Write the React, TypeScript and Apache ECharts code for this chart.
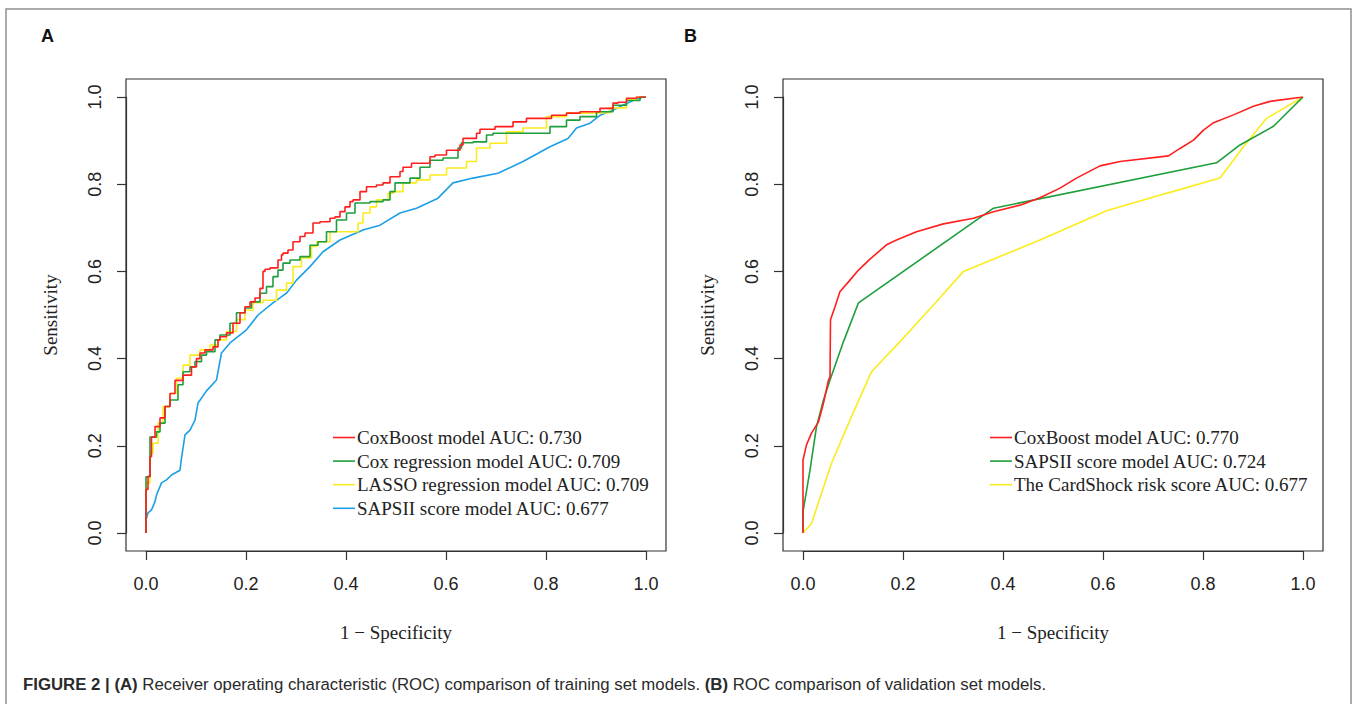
import React, { useEffect, useRef } from "react";
import * as echarts from "echarts";

// ---------- data ----------
const tickValues = [0, 0.2, 0.4, 0.6, 0.8, 1.0];

const trainNames = [
  "CoxBoost model AUC: 0.730",
  "Cox regression model AUC: 0.709",
  "LASSO regression model AUC: 0.709",
  "SAPSII score model AUC: 0.677",
];
const validNames = [
  "CoxBoost model AUC: 0.770",
  "SAPSII score model AUC: 0.724",
  "The CardShock risk score AUC: 0.677",
];

const coxBoostTrain = [
  [0, 0], [0, 0.09], [0.004, 0.1], [0.008, 0.13], [0.011, 0.175], [0.018, 0.22], [0.028, 0.244], [0.038, 0.264],
  [0.048, 0.29], [0.058, 0.32], [0.074, 0.35], [0.091, 0.362], [0.101, 0.381], [0.108, 0.4], [0.118, 0.413],
  [0.134, 0.42], [0.144, 0.427], [0.148, 0.443], [0.161, 0.45], [0.174, 0.459], [0.188, 0.481], [0.198, 0.505],
  [0.208, 0.519], [0.218, 0.53], [0.228, 0.539], [0.234, 0.561], [0.238, 0.6], [0.248, 0.605], [0.264, 0.608],
  [0.271, 0.626], [0.274, 0.638], [0.284, 0.642], [0.294, 0.649], [0.308, 0.668], [0.318, 0.68], [0.334, 0.688],
  [0.348, 0.711], [0.368, 0.714], [0.378, 0.722], [0.388, 0.725], [0.398, 0.737], [0.408, 0.748], [0.414, 0.76],
  [0.428, 0.764], [0.441, 0.783], [0.461, 0.794], [0.474, 0.798], [0.488, 0.803], [0.508, 0.817], [0.514, 0.829],
  [0.531, 0.839], [0.568, 0.848], [0.578, 0.863], [0.601, 0.867], [0.628, 0.878], [0.634, 0.89], [0.661, 0.905],
  [0.668, 0.917], [0.698, 0.926], [0.734, 0.932], [0.761, 0.943], [0.811, 0.951], [0.841, 0.958], [0.868, 0.963],
  [0.908, 0.966], [0.934, 0.974], [0.944, 0.986], [0.961, 0.988], [0.981, 0.997], [1, 1],
];
const coxRegTrain = [
  [0, 0], [0, 0.09], [0.008, 0.129], [0.021, 0.22], [0.028, 0.232], [0.038, 0.252], [0.048, 0.29], [0.064, 0.305],
  [0.074, 0.34], [0.088, 0.37], [0.098, 0.381], [0.111, 0.393], [0.121, 0.408], [0.138, 0.416], [0.148, 0.443],
  [0.168, 0.454], [0.181, 0.481], [0.198, 0.505], [0.211, 0.516], [0.228, 0.53], [0.241, 0.55], [0.254, 0.565],
  [0.264, 0.588], [0.274, 0.603], [0.288, 0.619], [0.308, 0.626], [0.328, 0.634], [0.344, 0.66], [0.361, 0.668],
  [0.381, 0.691], [0.401, 0.718], [0.418, 0.734], [0.448, 0.757], [0.474, 0.76], [0.488, 0.764], [0.498, 0.783],
  [0.528, 0.803], [0.548, 0.814], [0.568, 0.839], [0.594, 0.855], [0.624, 0.86], [0.631, 0.883], [0.654, 0.895],
  [0.681, 0.897], [0.694, 0.913], [0.748, 0.917], [0.808, 0.917], [0.841, 0.932], [0.868, 0.947], [0.901, 0.955],
  [0.934, 0.966], [0.961, 0.981], [0.988, 0.992], [1, 1],
];
const lassoTrain = [
  [0, 0], [0, 0.06], [0.008, 0.115], [0.014, 0.183], [0.024, 0.206], [0.034, 0.252], [0.048, 0.29], [0.061, 0.32],
  [0.074, 0.355], [0.088, 0.385], [0.108, 0.408], [0.128, 0.42], [0.144, 0.431], [0.161, 0.443], [0.181, 0.462],
  [0.198, 0.489], [0.214, 0.511], [0.234, 0.528], [0.261, 0.534], [0.281, 0.557], [0.294, 0.573], [0.294, 0.596],
  [0.311, 0.611], [0.331, 0.631], [0.341, 0.657], [0.368, 0.668], [0.381, 0.691], [0.424, 0.691], [0.434, 0.711],
  [0.448, 0.734], [0.461, 0.748], [0.484, 0.764], [0.494, 0.779], [0.514, 0.783], [0.541, 0.803], [0.568, 0.81],
  [0.601, 0.821], [0.641, 0.837], [0.661, 0.852], [0.688, 0.883], [0.721, 0.894], [0.754, 0.92], [0.801, 0.929],
  [0.841, 0.955], [0.881, 0.963], [0.928, 0.964], [0.961, 0.975], [0.981, 0.995], [1, 1],
];
const sapsTrain = [
  [0, 0], [0, 0.03], [0.004, 0.046], [0.011, 0.053], [0.018, 0.072], [0.021, 0.087], [0.031, 0.115], [0.041, 0.122],
  [0.051, 0.133], [0.068, 0.144], [0.071, 0.172], [0.078, 0.225], [0.088, 0.236], [0.098, 0.259], [0.104, 0.298],
  [0.121, 0.326], [0.141, 0.351], [0.151, 0.413], [0.168, 0.436], [0.201, 0.466], [0.224, 0.5], [0.254, 0.528],
  [0.281, 0.55], [0.301, 0.58], [0.328, 0.611], [0.354, 0.645], [0.388, 0.672], [0.434, 0.695], [0.468, 0.706],
  [0.508, 0.734], [0.541, 0.745], [0.584, 0.768], [0.614, 0.803], [0.654, 0.814], [0.704, 0.825], [0.754, 0.852],
  [0.808, 0.886], [0.844, 0.905], [0.861, 0.929], [0.888, 0.94], [0.908, 0.958], [0.934, 0.97], [0.954, 0.981],
  [0.974, 0.992], [0.994, 1.0], [1, 1],
];

const coxBoostValid = [
  [0, 0], [0, 0.167], [0.007, 0.202], [0.017, 0.229], [0.031, 0.255], [0.041, 0.298], [0.051, 0.351], [0.054, 0.358],
  [0.055, 0.489], [0.064, 0.519], [0.074, 0.554], [0.091, 0.576], [0.111, 0.603], [0.134, 0.628], [0.167, 0.661],
  [0.187, 0.672], [0.227, 0.691], [0.281, 0.709], [0.341, 0.722], [0.381, 0.737], [0.434, 0.752], [0.474, 0.769],
  [0.514, 0.791], [0.547, 0.814], [0.594, 0.842], [0.634, 0.852], [0.731, 0.865], [0.754, 0.882], [0.781, 0.901],
  [0.801, 0.924], [0.821, 0.941], [0.861, 0.959], [0.901, 0.979], [0.934, 0.99], [1, 1],
];
const sapsValid = [
  [0, 0], [0, 0.049], [0.014, 0.144], [0.027, 0.244], [0.041, 0.305], [0.054, 0.351], [0.081, 0.439], [0.111, 0.528],
  [0.381, 0.745], [0.827, 0.849], [0.874, 0.89], [0.941, 0.933], [1, 1],
];
const cardShockValid = [
  [0, 0], [0.017, 0.022], [0.037, 0.091], [0.057, 0.16], [0.097, 0.267], [0.137, 0.37], [0.194, 0.439], [0.261, 0.523],
  [0.321, 0.6], [0.474, 0.672], [0.607, 0.739], [0.727, 0.779], [0.834, 0.814], [0.881, 0.886], [0.927, 0.951], [1, 1],
];

const RED = "#ff1f1f";
const GREEN = "#1e9e3c";
const YELLOW = "#fbec1e";
const BLUE = "#1d9fe6";

const SERIF = "'Liberation Serif', 'Times New Roman', serif";
const SANS = "'Liberation Sans', Arial, Helvetica, sans-serif";

function xAxisCfg(gi: number) {
  return {
    type: "value",
    gridIndex: gi,
    min: tickValues[0],
    max: tickValues[tickValues.length - 1],
    interval: 0.2,
    position: "bottom",
    offset: 18,
    axisLine: { show: true, onZero: false, lineStyle: { color: "#333", width: 1.2 } },
    axisTick: { show: true, inside: false, length: 9, lineStyle: { color: "#333", width: 1.2 } },
    axisLabel: {
      margin: 24,
      fontSize: 18,
      fontFamily: SANS,
      color: "#222",
      formatter: (v: number) => v.toFixed(1),
    },
    splitLine: { show: false },
    name: "1 \u2212 Specificity",
    nameLocation: "middle",
    nameGap: 72,
    nameTextStyle: { fontFamily: SERIF, fontSize: 19, color: "#222" },
  };
}
function yAxisCfg(gi: number) {
  return {
    type: "value",
    gridIndex: gi,
    min: tickValues[0],
    max: tickValues[tickValues.length - 1],
    interval: 0.2,
    position: "left",
    offset: 20,
    axisLine: { show: true, onZero: false, lineStyle: { color: "#333", width: 1.2 } },
    axisTick: { show: true, inside: false, length: 9, lineStyle: { color: "#333", width: 1.2 } },
    axisLabel: {
      margin: 22,
      rotate: 90,
      fontSize: 18,
      fontFamily: SANS,
      color: "#222",
      formatter: (v: number) => v.toFixed(1),
    },
    splitLine: { show: false },
    name: "Sensitivity",
    nameLocation: "middle",
    nameRotate: 90,
    nameGap: 66,
    nameTextStyle: { fontFamily: SERIF, fontSize: 19, color: "#222" },
  };
}

function lineSeries(name: string, data: number[][], color: string, idx: number, step: boolean) {
  return {
    type: "line",
    name,
    data,
    xAxisIndex: idx,
    yAxisIndex: idx,
    showSymbol: false,
    symbol: "none",
    step: step ? "start" : false,
    lineStyle: { color, width: 1.6 },
    itemStyle: { color },
    z: 3,
  };
}

function legendCfg(left: number, names: string[]) {
  return {
    orient: "vertical",
    left,
    top: 428,
    padding: 0,
    data: names,
    icon: "rect",
    itemWidth: 22,
    itemHeight: 1.6,
    itemGap: 4.6,
    selectedMode: false,
    textStyle: { fontFamily: SERIF, fontSize: 19, color: "#222", padding: [0, 0, 0, -3] },
  };
}

export default function App() {
  const ref = useRef<HTMLDivElement>(null);
  useEffect(() => {
    if (!ref.current) return;
    const chart = echarts.init(ref.current, null, { renderer: "svg", width: 1357, height: 704 });
    const option: any = {
      animation: false,
      backgroundColor: "#ffffff",
      title: {
        left: 18,
        top: 671,
        text:
          "{b|FIGURE 2 | (A)}{n| Receiver operating characteristic (ROC) comparison of training set models. }{b|(B)}{n| ROC comparison of validation set models.}",
        textStyle: {
          fontWeight: "normal",
          rich: {
            b: { fontFamily: SANS, fontSize: 16.8, fontWeight: "bold", color: "#2a2a2a" },
            n: { fontFamily: SANS, fontSize: 16.8, fontWeight: "normal", color: "#2a2a2a" },
          },
        },
      },
      grid: [
        { left: 146, top: 97, width: 500, height: 436 },
        { left: 803, top: 97, width: 500, height: 436 },
      ],
      xAxis: [xAxisCfg(0), xAxisCfg(1)],
      yAxis: [yAxisCfg(0), yAxisCfg(1)],
      legend: [legendCfg(333, trainNames), legendCfg(990, validNames)],
      series: [
        lineSeries(trainNames[3], sapsTrain, BLUE, 0, false),
        lineSeries(trainNames[2], lassoTrain, YELLOW, 0, true),
        lineSeries(trainNames[1], coxRegTrain, GREEN, 0, true),
        lineSeries(trainNames[0], coxBoostTrain, RED, 0, true),
        lineSeries(validNames[2], cardShockValid, YELLOW, 1, false),
        lineSeries(validNames[1], sapsValid, GREEN, 1, false),
        lineSeries(validNames[0], coxBoostValid, RED, 1, false),
      ],
      graphic: [
        { type: "rect", shape: { x: 6, y: 9, width: 1345, height: 710 }, style: { fill: "none", stroke: "#8e8e8e", lineWidth: 1.5 }, silent: true },
        { type: "rect", shape: { x: 126, y: 79, width: 540, height: 472 }, style: { fill: "none", stroke: "#333", lineWidth: 1.2 }, silent: true },
        { type: "rect", shape: { x: 783, y: 79, width: 540, height: 472 }, style: { fill: "none", stroke: "#333", lineWidth: 1.2 }, silent: true },
        { type: "text", x: 41, y: 27, style: { text: "A", fontFamily: SANS, fontWeight: "bold", fontSize: 18, fill: "#111" } },
        { type: "text", x: 684, y: 27, style: { text: "B", fontFamily: SANS, fontWeight: "bold", fontSize: 18, fill: "#111" } },
      ],
    };
    chart.setOption(option);
    return () => chart.dispose();
  }, []);
  return (
    <div
      ref={ref}
      style={{ position: "fixed", left: 0, top: 0, width: 1357, height: 704, background: "#fff" }}
    />
  );
}
